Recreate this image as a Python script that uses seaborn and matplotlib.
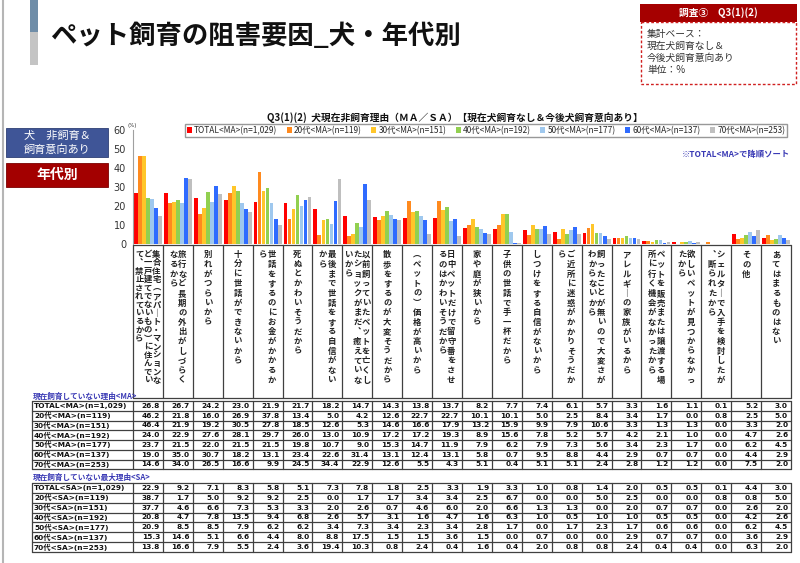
import matplotlib
matplotlib.use('Agg')
import matplotlib.pyplot as plt
import seaborn as sns
import pandas as pd
from matplotlib.patches import Rectangle, Patch

W, H = 800, 563
JP = ['Noto Sans CJK JP', 'DejaVu Sans']
LAT = ['DejaVu Sans', 'Noto Sans CJK JP']

# ---- data ----
reasons = [
    '集合住宅（アパート・マンションなど一戸建てでないもの）に住んでいて、禁止されているから',
    '旅行など長期の外出がしづらくなるから',
    '別れがつらいから',
    '十分に世話ができないから',
    '世話をするのにお金がかかるから',
    '死ぬとかわいそうだから',
    '最後まで世話をする自信がないから',
    '以前飼っていたペットを亡くしたショックがまだ、癒えていないから',
    '散歩をするのが大変そうだから',
    '（ペットの）価格が高いから',
    '日中ペットだけで留守番をさせるのはかわいそうだから',
    '家や庭が狭いから',
    '子供の世話で手一杯だから',
    'しつけをする自信がないから',
    'ご近所に迷惑がかかりそうだから',
    '飼ったことが無いので大変さがわからないから',
    'アレルギーの家族がいるから',
    'ペットを販売または譲渡する場所に行く機会がなかったから',
    '欲しいペットが見つからなかったから',
    'シェルターで入手を検討したが、断られたから',
    'その他',
    'あてはまるものはない',
]

ma_labels = ['TOTAL<MA>(n=1,029)', '20代<MA>(n=119)', '30代<MA>(n=151)', '40代<MA>(n=192)',
             '50代<MA>(n=177)', '60代<MA>(n=137)', '70代<MA>(n=253)']
sa_labels = ['TOTAL<SA>(n=1,029)', '20代<SA>(n=119)', '30代<SA>(n=151)', '40代<SA>(n=192)',
             '50代<SA>(n=177)', '60代<SA>(n=137)', '70代<SA>(n=253)']
colors = ['#FF0000', '#FF8A1E', '#FFC62A', '#92D050', '#9FC8EE', '#2F6BFF', '#BFBFBF']

ma_total = [26.8, 26.7, 24.2, 23.0, 21.9, 21.7, 18.2, 14.7, 14.3, 13.8, 13.7, 8.2, 7.7, 7.4, 6.1, 5.7, 3.3, 1.6, 1.1, 0.1, 5.2, 3.0]
ma_20 = [46.2, 21.8, 16.0, 26.9, 37.8, 13.4, 5.0, 4.2, 12.6, 22.7, 22.7, 10.1, 10.1, 5.0, 2.5, 8.4, 3.4, 1.7, 0.0, 0.8, 2.5, 5.0]
ma_30 = [46.4, 21.9, 19.2, 30.5, 27.8, 18.5, 12.6, 5.3, 14.6, 16.6, 17.9, 13.2, 15.9, 9.9, 7.9, 10.6, 3.3, 1.3, 1.3, 0.0, 3.3, 2.0]
ma_40 = [24.0, 22.9, 27.6, 28.1, 29.7, 26.0, 13.0, 10.9, 17.2, 17.2, 19.3, 8.9, 15.6, 7.8, 5.2, 5.7, 4.2, 2.1, 1.0, 0.0, 4.7, 2.6]
ma_50 = [23.7, 21.5, 22.0, 21.5, 21.5, 19.8, 10.7, 9.0, 15.3, 14.7, 11.9, 7.9, 6.2, 7.9, 7.3, 5.6, 3.4, 2.3, 1.7, 0.0, 6.2, 4.5]
ma_60 = [19.0, 35.0, 30.7, 18.2, 13.1, 23.4, 22.6, 31.4, 13.1, 12.4, 13.1, 5.8, 0.7, 9.5, 8.8, 4.4, 2.9, 0.7, 0.7, 0.0, 4.4, 2.9]
ma_70 = [14.6, 34.0, 26.5, 16.6, 9.9, 24.5, 34.4, 22.9, 12.6, 5.5, 4.3, 5.1, 0.4, 5.1, 5.1, 2.4, 2.8, 1.2, 1.2, 0.0, 7.5, 2.0]

sa_total = [22.9, 9.2, 7.1, 8.3, 5.8, 5.1, 7.3, 7.8, 1.8, 2.5, 3.3, 1.9, 3.3, 1.0, 0.8, 1.4, 2.0, 0.5, 0.5, 0.1, 4.4, 3.0]
sa_20 = [38.7, 1.7, 5.0, 9.2, 9.2, 2.5, 0.0, 1.7, 1.7, 3.4, 3.4, 2.5, 6.7, 0.0, 0.0, 5.0, 2.5, 0.0, 0.0, 0.8, 0.8, 5.0]
sa_30 = [37.7, 4.6, 6.6, 7.3, 5.3, 3.3, 2.0, 2.6, 0.7, 4.6, 6.0, 2.0, 6.6, 1.3, 1.3, 0.0, 2.0, 0.7, 0.7, 0.0, 2.6, 2.0]
sa_40 = [20.8, 4.7, 7.8, 13.5, 9.4, 6.8, 2.6, 5.7, 3.1, 1.6, 4.7, 1.6, 6.3, 1.0, 0.5, 1.0, 1.0, 0.5, 0.5, 0.0, 4.2, 2.6]
sa_50 = [20.9, 8.5, 8.5, 7.9, 6.2, 6.2, 3.4, 7.3, 3.4, 2.3, 3.4, 2.8, 1.7, 0.0, 1.7, 2.3, 1.7, 0.6, 0.6, 0.0, 6.2, 4.5]
sa_60 = [15.3, 14.6, 5.1, 6.6, 4.4, 8.0, 8.8, 17.5, 1.5, 1.5, 3.6, 1.5, 0.0, 0.7, 0.0, 0.0, 2.9, 0.7, 0.7, 0.0, 3.6, 2.9]
sa_70 = [13.8, 16.6, 7.9, 5.5, 2.4, 3.6, 19.4, 10.3, 0.8, 2.4, 0.4, 1.6, 0.4, 2.0, 0.8, 0.8, 2.4, 0.4, 0.4, 0.0, 6.3, 2.0]

ma_rows = [ma_total, ma_20, ma_30, ma_40, ma_50, ma_60, ma_70]
sa_rows = [sa_total, sa_20, sa_30, sa_40, sa_50, sa_60, sa_70]

df = pd.DataFrame([
    {'pos': i, 'series': lab, 'value': v}
    for lab, vals in zip(ma_labels, ma_rows)
    for i, v in enumerate(vals)
])

sns.set_style('white')
plt.rcParams['font.family'] = LAT

fig = plt.figure(figsize=(W / 100, H / 100), dpi=100)

# overlay axes in pixel coordinates for the page decoration and table
ov = fig.add_axes([0, 0, 1, 1])
ov.set_xlim(0, W)
ov.set_ylim(H, 0)
ov.axis('off')

X0, X1 = 133, 791
CW = (X1 - X0) / len(reasons)
Y_TOP, Y_ZERO = 130, 244


def box(x0, y0, x1, y1):
    return [x0 / W, 1 - y1 / H, (x1 - x0) / W, (y1 - y0) / H]


ax = fig.add_axes(box(X0, Y_TOP, X1, Y_ZERO))
ax.patch.set_alpha(0)
sns.barplot(data=df, x='pos', y='value', hue='series', hue_order=ma_labels,
            palette=dict(zip(ma_labels, colors)), saturation=1, width=0.94,
            gap=0.06, legend=False, ax=ax, linewidth=0, errorbar=None)
ax.set_xlim(-0.5, len(reasons) - 0.5)
ax.set_ylim(0, 60)
ax.set_yticks(range(0, 61, 10))
ax.set_xticks([])
ax.set_xlabel('')
ax.set_ylabel('')
for s in ['top', 'right', 'bottom']:
    ax.spines[s].set_visible(False)
ax.spines['left'].set_color('#A0A0A0')
ax.tick_params(axis='y', labelsize=7, colors='#333333', length=3, width=0.6, pad=2)
ov.text(127, 126, '(%)', fontsize=4, color='#333333', va='center')

# page decoration
ov.plot([2.5, 2.5], [0, H], color='#B5B5B5', lw=1.5)
ov.add_patch(Rectangle((30, 0), 8, 32, fc='#6F8DA8', ec='none'))
ov.add_patch(Rectangle((30, 32), 8, 33, fc='#C4C4C4', ec='none'))
ov.text(50, 37, 'ペット飼育の阻害要因_犬・年代別', fontsize=19, weight='bold',
        va='center', family=JP, color='#111111')

ov.add_patch(Rectangle((640, 4), 157, 18, fc='#A50000', ec='none'))
ov.text(718, 13, '調査③　Q3(1)(2)', fontsize=7, weight='bold', color='white',
        ha='center', va='center', family=JP)
ov.add_patch(Rectangle((641, 22), 155, 62, fc='none', ec='#D02020', ls=(0, (2, 1.5)), lw=1))
for k, t in enumerate(['集計ベース：', '現在犬飼育なし＆', '今後犬飼育意向あり', '単位：%']):
    ov.text(647, 34 + k * 12, t, fontsize=7, va='center', family=JP, color='#333333')

ov.add_patch(Rectangle((6, 128), 102, 29, fc='#3F5597', ec='#2E3F75', lw=0.6))
ov.text(57, 135.5, '犬　非飼育＆', fontsize=8, color='white', ha='center', va='center', family=JP)
ov.text(57, 149.5, '飼育意向あり', fontsize=8, color='white', ha='center', va='center', family=JP)
ov.add_patch(Rectangle((6, 163), 102, 24, fc='#A30000', ec='#7A0000', lw=0.6))
ov.text(57, 175, '年代別', fontsize=10, weight='bold', color='white', ha='center', va='center', family=JP)

ov.text(455, 118, 'Q3(1)(2)  犬現在非飼育理由（ＭＡ／ＳＡ）【現在犬飼育なし＆今後犬飼育意向あり】',
        fontsize=7, weight='bold', ha='center', va='center', family=JP, color='#111111')
ov.text(790, 155, '※TOTAL<MA>で降順ソート', fontsize=6, weight='bold', ha='right',
        va='center', family=JP, color='#3A3AB5')

handles = [Patch(fc=c, ec='none') for c in colors]
fig.legend(handles, ma_labels, ncol=7, loc='center', bbox_to_anchor=(486 / W, 1 - 130.5 / H),
           prop={'family': JP, 'size': 6}, frameon=True, fancybox=False, edgecolor='#7F7F7F',
           handlelength=0.6, handleheight=0.6, handletextpad=0.3, columnspacing=1.1,
           borderpad=0.25)

# category header cells with vertical text
VERT = {'ー': '｜', '（': '︵', '）': '︶', '、': '︑', '－': '｜'}
HY0, HY1 = 245, 398
LC = '#404040'
ov.plot([X0, X1], [HY0, HY0], color=LC, lw=0.9)
ov.plot([X0, X1], [HY1, HY1], color=LC, lw=0.9)
for i in range(len(reasons) + 1):
    x = X0 + i * CW
    ov.plot([x, x], [HY0, HY1], color=LC, lw=0.9)
for i, lab in enumerate(reasons):
    width = 14 if len(lab) <= 42 else 16
    cols = [lab[k:k + width] for k in range(0, len(lab), width)]
    pitch = 135 / width
    sp = 8.6
    cx = X0 + (i + 0.5) * CW
    n = len(cols)
    for j, col in enumerate(cols):
        x = cx + (n - 1) / 2 * sp - j * sp
        for k, ch in enumerate(col):
            ov.text(x, 250 + pitch * (k + 0.5), VERT.get(ch, ch), fontsize=6,
                    weight='bold', ha='center', va='center', family=JP, color='#222222')


def draw_table(top, rh, labels, rows):
    bottom = top + rh * len(rows)
    for r in range(len(rows) + 1):
        y = top + r * rh
        ov.plot([32, X1], [y, y], color=LC, lw=0.9)
    ov.plot([32, 32], [top, bottom], color=LC, lw=0.9)
    for i in range(len(reasons) + 1):
        x = X0 + i * CW
        ov.plot([x, x], [top, bottom], color=LC, lw=0.9)
    for r, (lab, vals) in enumerate(zip(labels, rows)):
        yc = top + (r + 0.5) * rh
        ov.text(34, yc, lab, fontsize=5.3, weight='bold', va='center', color='#111111')
        for i, v in enumerate(vals):
            ov.text(X0 + (i + 1) * CW - 3, yc, f'{v:.1f}', fontsize=5.3, weight='bold',
                    ha='right', va='center', color='#111111')


ov.text(33, 396, '現在飼育していない理由<MA>', fontsize=5.5, weight='bold', va='center',
        family=JP, color='#3A3AB5')
draw_table(401, 9.75, ma_labels, ma_rows)
ov.text(33, 477, '現在飼育していない最大理由<SA>', fontsize=5.5, weight='bold', va='center',
        family=JP, color='#3A3AB5')
draw_table(483, 9.85, sa_labels, sa_rows)

fig.savefig('out.png', dpi=100)
